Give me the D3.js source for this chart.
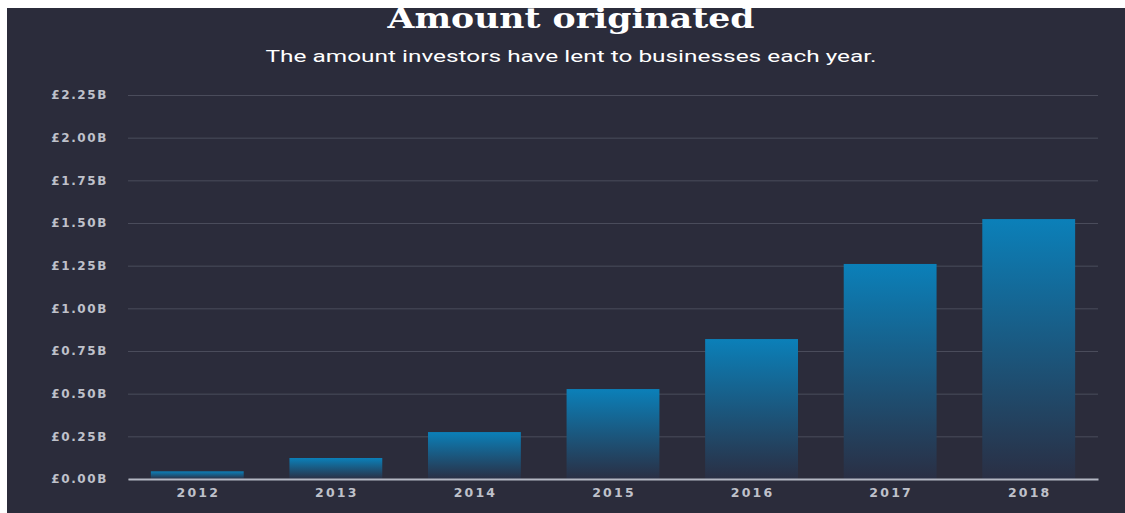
<!DOCTYPE html>
<meta charset="utf-8">
<style>
body { margin: 0; background: #fff; }
.grid line { stroke: #4a4c5b; stroke-width: 1px; }
.grid .domain { display: none; }
.yaxis text { fill: #bfc1ca; font-family: "DejaVu Sans", sans-serif; font-size: 12px; font-weight: bold; letter-spacing: 1.6px; }
.xaxis text { fill: #bfc1ca; font-family: "DejaVu Sans", sans-serif; font-size: 12.5px; font-weight: bold; letter-spacing: 2.2px; }
</style>
<body>
<script src="https://d3js.org/d3.v7.min.js"></script>
<script>

// data
var years = ["2012", "2013", "2014", "2015", "2016", "2017", "2018"];
var amounts = [0.045, 0.123, 0.275, 0.527, 0.82, 1.26, 1.523]; // billions of pounds
var yTicks = [0, 0.25, 0.5, 0.75, 1.0, 1.25, 1.5, 1.75, 2.0, 2.25];

var W = 1125, H = 513;
var margin = {top: 95, right: 27, bottom: 34, left: 128},
    width = W - margin.left - margin.right,
    height = H - margin.top - margin.bottom;

var svg = d3.select("body").append("svg")
    .attr("width", W)
    .attr("height", H);

// dark panel
svg.append("rect")
    .attr("x", 7).attr("y", 8)
    .attr("width", W - 7).attr("height", H - 8)
    .attr("fill", "#2b2c3b");

var defs = svg.append("defs");
var grad = defs.append("linearGradient")
    .attr("id", "barGrad")
    .attr("x1", 0).attr("y1", 0).attr("x2", 0).attr("y2", 1);
grad.append("stop").attr("offset", "0%").attr("stop-color", "#0b80b9");
grad.append("stop").attr("offset", "100%").attr("stop-color", "#2a2f44");

// titles
svg.append("text")
    .attr("x", 571).attr("y", 28)
    .attr("text-anchor", "middle")
    .attr("fill", "#ffffff")
    .attr("font-family", "'DejaVu Serif', serif")
    .attr("font-weight", "bold")
    .attr("font-size", 27)
    .attr("textLength", 367)
    .attr("lengthAdjust", "spacingAndGlyphs")
    .text("Amount originated");

svg.append("text")
    .attr("x", 571).attr("y", 62)
    .attr("text-anchor", "middle")
    .attr("fill", "#ffffff")
    .attr("font-family", "Roboto, sans-serif")
    .attr("font-size", 17)
    .attr("textLength", 611)
    .attr("lengthAdjust", "spacingAndGlyphs")
    .text("The amount investors have lent to businesses each year.");

var g = svg.append("g")
    .attr("transform", "translate(" + margin.left + "," + margin.top + ")");

var x = d3.scaleBand().domain(years).range([0, width]).paddingInner(0.33).paddingOuter(0.165);
var y = d3.scaleLinear().domain([0, 2.25]).range([height, 0]);

// grid lines
g.append("g")
    .attr("class", "grid")
    .call(d3.axisLeft(y).tickValues(yTicks).tickSize(-width).tickFormat(""));

// bars
g.selectAll(".bar")
    .data(amounts)
    .enter().append("rect")
    .attr("class", "bar")
    .attr("x", function(d, i) { return x(years[i]); })
    .attr("y", function(d) { return y(d); })
    .attr("width", x.bandwidth())
    .attr("height", function(d) { return height - y(d); })
    .attr("fill", "url(#barGrad)");

// y labels
var ya = g.append("g")
    .attr("class", "yaxis")
    .call(d3.axisLeft(y).tickValues(yTicks).tickSize(0).tickPadding(20)
        .tickFormat(function(d) { return "£" + d3.format(".2f")(d) + "B"; }));
ya.select(".domain").remove();

// x axis
var xa = g.append("g")
    .attr("class", "xaxis")
    .attr("transform", "translate(0," + height + ")")
    .call(d3.axisBottom(x).tickSize(0).tickPadding(9));
xa.select(".domain").attr("stroke", "#b4b7c3").attr("stroke-width", 2);
xa.selectAll("text").attr("dx", "1px");

</script>
</body>
